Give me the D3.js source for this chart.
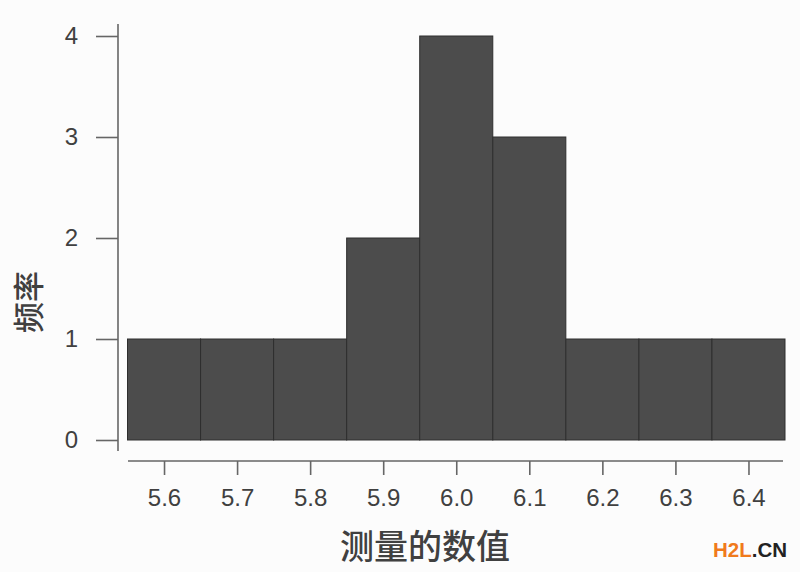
<!DOCTYPE html>
<html><head><meta charset="utf-8">
<script src="https://cdn.jsdelivr.net/npm/d3@7"></script>
<style>body{margin:0;background:#fcfcfc}svg{display:block}</style>
</head><body>
<script>
const binStarts = [5.55, 5.65, 5.75, 5.85, 5.95, 6.05, 6.15, 6.25, 6.35];
const binWidth = 0.1;
const counts = [1, 1, 1, 2, 4, 3, 1, 1, 1];
const xTicks = [5.6, 5.7, 5.8, 5.9, 6.0, 6.1, 6.2, 6.3, 6.4];
const yTicks = [0, 1, 2, 3, 4];
const xTitle = "测量的数值";
const yTitle = "频率";

const W = 800, H = 572;
const svg = d3.select("body").append("svg").attr("width", W).attr("height", H)
  .style("background", "#fcfcfc");

const x = d3.scaleLinear().domain([5.55, 6.45]).range([127.5, 785]);
const y = d3.scaleLinear().domain([0, 4]).range([440, 36]);
const font = "Liberation Sans, Arial, sans-serif";
const cjk = "'Noto Sans CJK SC', sans-serif";

// bars
svg.append("g").selectAll("rect").data(binStarts).join("rect")
  .attr("x", (d) => x(d))
  .attr("width", (d) => x(d + binWidth) - x(d))
  .attr("y", (d, i) => y(counts[i]))
  .attr("height", (d, i) => y(0) - y(counts[i]))
  .attr("fill", "#4c4c4c")
  .attr("stroke", "#2e2e2e")
  .attr("stroke-width", 1);

// y axis
const yAxis = d3.axisLeft(y).tickValues(yTicks).tickFormat(d3.format("d"))
  .tickSize(22).tickPadding(18);
const gy = svg.append("g").attr("transform", "translate(118,0)").call(yAxis);
gy.select(".domain").attr("d", "M0,24V451");
gy.selectAll("line, .domain").attr("stroke", "#666").attr("stroke-width", 1.6);
gy.selectAll("text").attr("font-family", font).attr("font-size", 24).attr("fill", "#404040");

// x axis
const xAxis = d3.axisBottom(x).tickValues(xTicks).tickFormat(d3.format(".1f"))
  .tickSize(14).tickPadding(14);
const gx = svg.append("g").attr("transform", "translate(0,461)").call(xAxis);
gx.select(".domain").attr("d", "M128,0H783");
gx.selectAll("line, .domain").attr("stroke", "#666").attr("stroke-width", 1.6);
gx.selectAll("text").attr("font-family", font).attr("font-size", 24).attr("fill", "#404040");

// titles
svg.append("text").attr("x", 425).attr("y", 559).attr("text-anchor", "middle")
  .attr("font-family", cjk).attr("font-weight", 500).attr("font-size", 34).attr("fill", "#404040").text(xTitle);
svg.append("text").attr("transform", "translate(40,302) rotate(-90)")
  .attr("text-anchor", "middle").attr("font-family", cjk).attr("font-weight", 500).attr("font-size", 31)
  .attr("fill", "#404040").text(yTitle);

// watermark
const wm = svg.append("text").attr("x", 713).attr("y", 557)
  .attr("font-family", font).attr("font-weight", "bold").attr("font-size", 20.5);
wm.append("tspan").attr("fill", "#f07a1c").text("H2L");
wm.append("tspan").attr("fill", "#222").text(".CN");
</script>
</body></html>
